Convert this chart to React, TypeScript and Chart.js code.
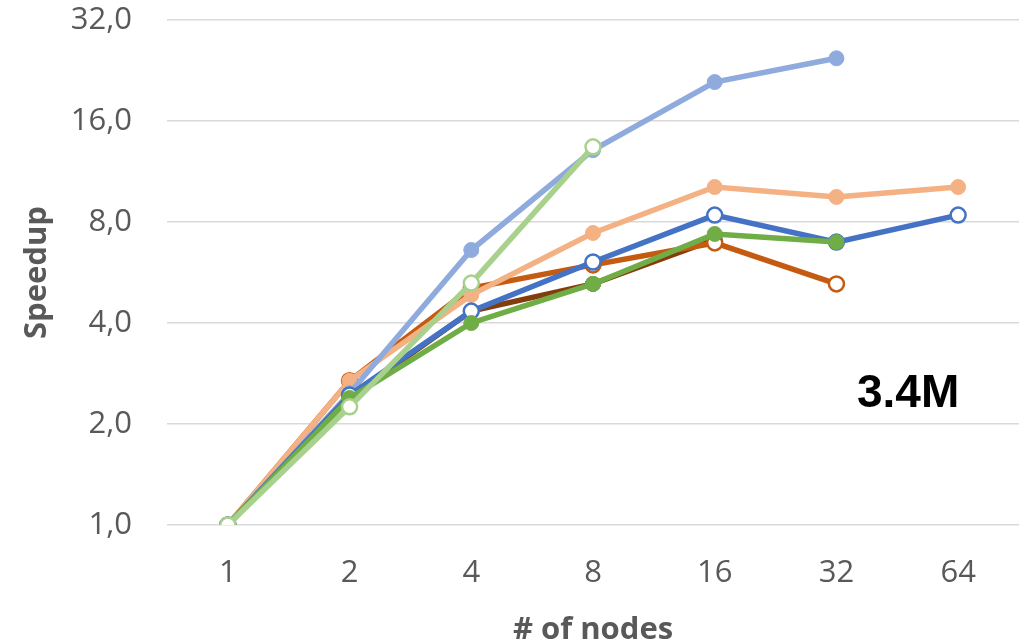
import React, { useEffect, useRef } from "react";
import { Chart, registerables } from "chart.js";

Chart.register(...registerables);

const nodes = ["1", "2", "4", "8", "16", "32", "64"];
const yTickValues = [1, 2, 4, 8, 16, 32];

const lightBlue = [1, 2.47, 6.6, 13.1, 20.9, 24.6, null];
const lightOrange = [1, 2.69, 4.85, 7.42, 10.17, 9.5, 10.17];
const blue = [1, 2.44, 4.34, 6.08, 8.39, 6.97, 8.39];
const green = [1, 2.39, 4.0, 5.23, 7.37, 6.97, null];
const darkOrange = [1, 2.69, 5.08, 5.96, 6.93, 5.23, null];
const brown = [1, 2.4, 4.34, 5.23, 7.1, null, null];
const lightGreen = [1, 2.25, 5.26, 13.4, null, null, null];

const label = "3.4M";

function series(data: (number | null)[], color: string, open: boolean, order: number) {
  return {
    data,
    borderColor: color,
    backgroundColor: color,
    borderWidth: 5.5,
    pointRadius: 7.5,
    pointHoverRadius: 7.5,
    pointBackgroundColor: open ? "#ffffff" : color,
    pointBorderColor: color,
    pointBorderWidth: open ? 2.5 : 1,
    tension: 0,
    order,
  };
}

export default function App() {
  const ref = useRef<HTMLCanvasElement>(null);
  useEffect(() => {
    document.body.style.margin = "0";
    const ctx = ref.current!;
    const chart = new Chart(ctx, {
      type: "line",
      data: {
        labels: nodes,
        datasets: [
          series(brown, "#843C0C", false, 7),
          series(darkOrange, "#C55A11", true, 6),
          series(lightOrange, "#F4B183", false, 5),
          series(lightBlue, "#8FAADC", false, 4),
          series(blue, "#4472C4", true, 3),
          series(green, "#70AD47", false, 2),
          series(lightGreen, "#A9D18E", true, 1),
        ] as any,
      },
      options: {
        animation: false,
        responsive: false,
        maintainAspectRatio: false,
        layout: { padding: { top: 20, right: 14, bottom: 0, left: 0 } },
        plugins: { legend: { display: false }, tooltip: { enabled: false } },
        scales: {
          x: {
            type: "category",
            offset: true,
            grid: { display: false, drawTicks: false },
            border: { display: false },
            ticks: {
              color: "#595959",
              font: { family: "'Open Sans'", size: 31 },
              padding: 30,
              maxRotation: 0,
            },
            title: {
              display: true,
              text: "# of nodes",
              color: "#595959",
              font: { family: "'Open Sans'", size: 31, weight: "bold" },
              padding: { top: 0, bottom: -5 },
            },
            afterFit: (s: any) => {
              s.height = 119;
              s.paddingLeft = 0;
              s.paddingRight = 0;
            },
          },
          y: {
            type: "logarithmic",
            min: 1,
            max: 32,
            grid: { color: "#d9d9d9", lineWidth: 1.5, drawTicks: false },
            border: { display: false },
            afterBuildTicks: (s: any) => {
              s.ticks = yTickValues.map((v) => ({ value: v }));
            },
            ticks: {
              color: "#595959",
              font: { family: "'Open Sans'", size: 31 },
              padding: 35,
              callback: (v: any) => Number(v).toFixed(1).replace(".", ","),
            },
            title: {
              display: true,
              text: "Speedup",
              color: "#595959",
              font: { family: "'Open Sans'", size: 31, weight: "bold" },
              padding: { top: 19, bottom: 0 },
            },
            afterFit: (s: any) => {
              s.width = 167;
              s.paddingTop = 0;
              s.paddingBottom = 0;
            },
          },
        },
      },
    });
    return () => chart.destroy();
  }, []);
  return (
    <div style={{ position: "relative", width: 1033, height: 644, background: "#fff" }}>
      <canvas ref={ref} width={1033} height={644} style={{ display: "block" }} />
      <div
        style={{
          position: "absolute",
          left: 857,
          top: 365,
          fontFamily: "'Liberation Sans', Arial, sans-serif",
          fontWeight: "bold",
          fontSize: 46,
          lineHeight: "52px",
          color: "#000",
          whiteSpace: "nowrap",
        }}
      >
        {label}
      </div>
    </div>
  );
}
